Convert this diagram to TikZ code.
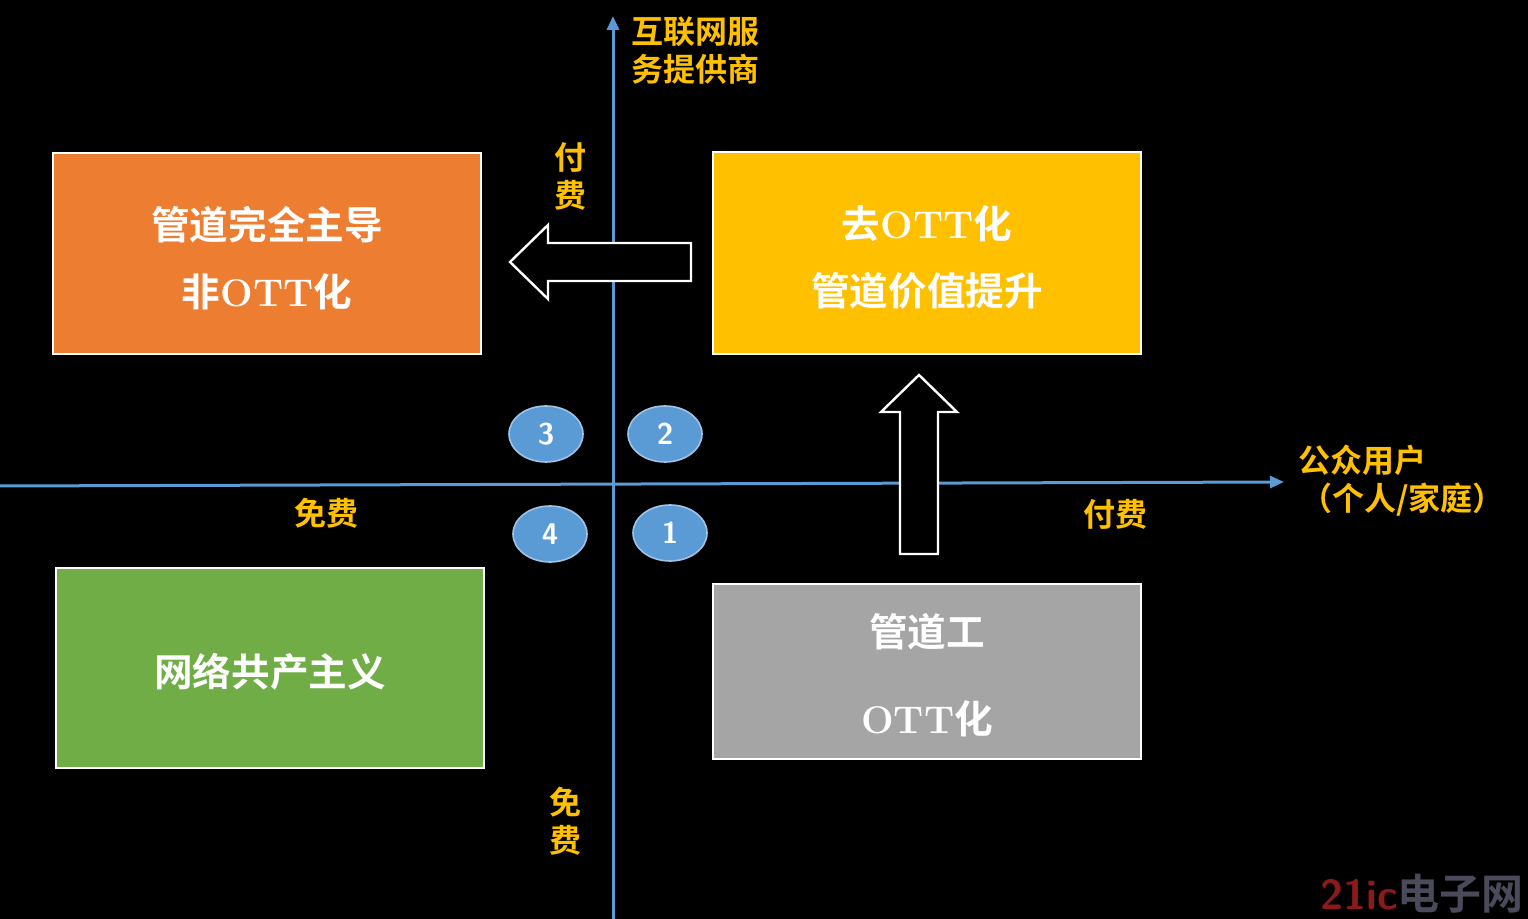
\documentclass[tikz,border=0pt]{standalone}
\usepackage{fontspec}
\newfontfamily\cjk{Noto Sans CJK SC}[BoldFont={Noto Sans CJK SC Bold}]
\usetikzlibrary{arrows.meta,shapes.geometric}
\definecolor{axis}{HTML}{5B9BD5}
\definecolor{lab}{HTML}{FFC000}
\begin{document}
\begin{tikzpicture}[x=0.5pt,y=-0.5pt,
 box/.style={draw=white,line width=1.2pt},
 btxt/.style={text=white,font=\cjk\bfseries\fontsize{19.3}{22}\selectfont},
 lbl/.style={text=lab,font=\cjk\bfseries\fontsize{16}{19}\selectfont,align=left,inner sep=0},
 num/.style={ellipse,draw=axis!60!white,fill=axis,line width=0.8pt,minimum width=37pt,minimum height=28pt,text=white,font=\sffamily\bfseries\fontsize{15}{16}\selectfont},
 blk/.style={draw=white,fill=black,line width=1.2pt}]
\fill[black] (0,0) rectangle (1528,919);
\useasboundingbox (0,0) rectangle (1528,919);
\coordinate (vb) at (613,919); \coordinate (vt) at (613,16);
\coordinate (hl) at (0,486); \coordinate (hr) at (1284,482);
\draw[axis,line width=1.5pt,-{Triangle[length=7pt,width=6pt]}] (vb) -- (vt);
\draw[axis,line width=1.5pt,-{Triangle[length=7pt,width=6pt]}] (hl) -- (hr);
% boxes
\draw[box,fill={rgb,255:red,237;green,125;blue,49}] (53,153) rectangle (481,354);
\node[btxt] (o1) at (267,225) {管道完全主导};
\node[btxt] (o2) at (267,292) {非{\rmfamily\bfseries OTT}化};
\draw[box,fill={rgb,255:red,255;green,192;blue,0}] (713,152) rectangle (1141,354);
\node[btxt] (y1) at (927,224) {去{\rmfamily\bfseries OTT}化};
\node[btxt] (y2) at (927,291) {管道价值提升};
\draw[box,fill={rgb,255:red,112;green,173;blue,71}] (56,568) rectangle (484,768);
\node[btxt] (g1) at (270,672) {网络共产主义};
\draw[box,fill={rgb,255:red,165;green,165;blue,165}] (713,584) rectangle (1141,759);
\node[btxt] (p1) at (927,632) {管道工};
\node[btxt] (p2) at (927,719) {{\rmfamily\bfseries OTT}化};
% block arrows
\draw[blk] (691,243) -- (548,243) -- (548,225) -- (510,262) -- (548,299) -- (548,281) -- (691,281) -- cycle;
\draw[blk] (900,554) -- (900,412) -- (881,412) -- (919,375) -- (957,412) -- (938,412) -- (938,554) -- cycle;
% numbers
\node[num] (n3) at (546,434) {3};
\node[num] (n2) at (665,434) {2};
\node[num] (n4) at (550,534) {4};
\node[num] (n1) at (670,533) {1};
% labels
\node[lbl,anchor=north west] (t1) at (631,16) {互联网服\\务提供商};
\node[lbl,anchor=north] (t2) at (570,142) {付\\费};
\node[lbl,anchor=west] (t3) at (1298,460) {公众用户};
\node[lbl,anchor=west] (t4) at (1300,500) {（个人/家庭）};
\node[lbl] (t5) at (326,513) {免费};
\node[lbl] (t6) at (1115,514) {付费};
\node[lbl,anchor=north] (t7) at (565,787) {免\\费};
\node[inner sep=0,anchor=south east] (logo) at (1524,914) {\fontsize{21}{21}\selectfont\textcolor[HTML]{8B1A1A}{\sffamily\bfseries 21ic}\textcolor[HTML]{4A4A5A}{\cjk\bfseries 电子网}};
\end{tikzpicture}
\end{document}
